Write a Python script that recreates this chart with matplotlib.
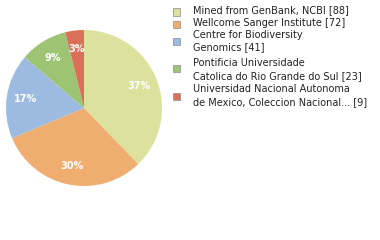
import matplotlib
matplotlib.use("Agg")
import matplotlib.pyplot as plt
from matplotlib.patches import Rectangle

labels = [["Mined from GenBank, NCBI [88]"],
          ["Wellcome Sanger Institute [72]"],
          ["Centre for Biodiversity", "Genomics [41]"],
          ["Pontificia Universidade", "Catolica do Rio Grande do Sul [23]"],
          ["Universidad Nacional Autonoma", "de Mexico, Coleccion Nacional... [9]"]]
values = [88, 72, 41, 23, 9]
colors = ["#dce29d", "#f0ad70", "#9dbbe0", "#9dc472", "#db7058"]

fig = plt.figure(figsize=(3.8, 2.4), dpi=100)
ax = fig.add_axes([6/380, (240-186)/240, 156/380, 156/240])
wedges, texts, autotexts = ax.pie(values, colors=colors, startangle=90, counterclock=False,
                                  autopct=lambda p: f"{int(p)}%", pctdistance=0.76,
                                  wedgeprops=dict(linewidth=0),
                                  textprops=dict(color="white", fontsize=7, fontweight="bold"))
ax.set_xlim(-1, 1); ax.set_ylim(-1, 1)
ax.set_aspect("equal")

square_y = [12, 24, 41, 69, 96]
text_y = [[10.5], [23], [35, 47.5], [63, 76], [89.5, 102.5]]
for lab, c, sy, ty in zip(labels, colors, square_y, text_y):
    fig.patches.append(Rectangle((173/380, 1 - (sy + 3.5)/240), 7/380, 7/240,
                                 transform=fig.transFigure, facecolor=c,
                                 edgecolor="#999999", linewidth=0.6))
    for line, y in zip(lab, ty):
        fig.text(193/380, 1 - y/240, line, fontsize=7, color="#222222",
                 va="center", ha="left")

fig.savefig("out.png", dpi=100)
